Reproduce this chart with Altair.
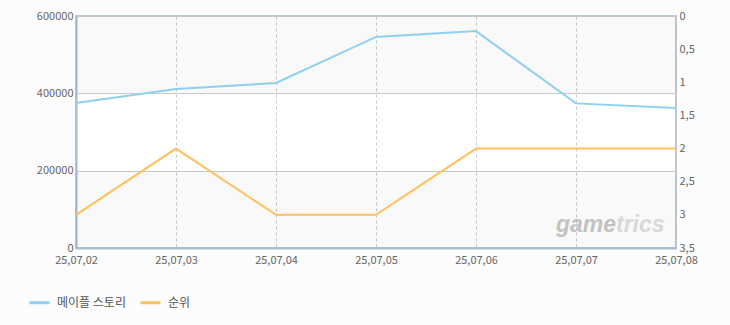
import altair as alt
import pandas as pd

dates = ["25,07,02", "25,07,03", "25,07,04", "25,07,05", "25,07,06", "25,07,07", "25,07,08"]
users = [375000, 411000, 427000, 546000, 561000, 374000, 362000]
ranks = [3, 2, 3, 3, 2, 2, 2]
series_names = ["메이플 스토리", "순위"]
series_colors = ["#8ed0f2", "#ffc05e"]
left_ticks = [0, 200000, 400000, 600000]
right_ticks = [0, 0.5, 1, 1.5, 2, 2.5, 3, 3.5]
band_lo = [0, 400000]
band_hi = [200000, 600000]

df = pd.DataFrame({"date": dates, "users": users, "rank": ranks,
                   "s1": series_names[0], "s2": series_names[1]})
bands = pd.DataFrame({"lo": band_lo, "hi": band_hi})

FONT = "Noto Sans CJK KR"
LBL = "#666666"

xenc = alt.X("date:N", sort=dates, title=None,
             scale=alt.Scale(type="point", padding=0),
             axis=alt.Axis(labelAngle=0, labelFontSize=11, labelColor=LBL, labelFont=FONT,
                           ticks=False, labelPadding=6, grid=True, gridDash=[3, 3],
                           gridColor="#c8c8c8", domainColor="#a9bbce", domainWidth=2))

legend = alt.Legend(title=None, orient="none", direction="horizontal",
                    legendX=-48, legendY=275, symbolType="stroke",
                    symbolSize=400, symbolStrokeWidth=3,
                    labelFontSize=12, labelColor="#555555", labelFont=FONT,
                    columnPadding=8, labelOffset=6)
cscale = alt.Scale(domain=series_names, range=series_colors)

ysc_left = alt.Scale(domain=[0, 600000], nice=False)
left_axis = alt.Axis(values=left_ticks, format="d", labelFontSize=11, labelColor=LBL,
                     labelFont=FONT, ticks=False, labelPadding=3, grid=True,
                     gridColor="#cccccc", domainColor="#a9bbce", domainWidth=2,
                     title=None)

band_layer = alt.Chart(bands).mark_rect(color="#000000", opacity=0.022).encode(
    y=alt.Y("lo:Q", scale=ysc_left, axis=None),
    y2="hi:Q",
)

blue = alt.Chart(df).mark_line(strokeWidth=2).encode(
    x=xenc,
    y=alt.Y("users:Q", scale=ysc_left, axis=left_axis),
    color=alt.Color("s1:N", scale=cscale, legend=legend),
)

orange = alt.Chart(df).mark_line(strokeWidth=2).encode(
    x=xenc,
    y=alt.Y("rank:Q", scale=alt.Scale(domain=[0, 3.5], reverse=True, nice=False),
            axis=alt.Axis(orient="right", values=right_ticks,
                          labelExpr="replace(format(datum.value, ''), '.', ',')",
                          labelFontSize=11, labelColor=LBL, labelFont=FONT, ticks=False,
                          labelPadding=3, grid=False, domain=False, title=None)),
    color=alt.Color("s2:N", scale=cscale, legend=legend),
)

mark = alt.Chart(pd.DataFrame({"t": ["game"]})).mark_text(
    font="Liberation Sans", fontSize=23, fontStyle="italic", fontWeight="bold",
    align="right", baseline="alphabetic", color="#c2c2c2").encode(
    text="t:N", x=alt.value(540), y=alt.value(216))
mark2 = alt.Chart(pd.DataFrame({"u": ["trics"]})).mark_text(
    font="Liberation Sans", fontSize=23, fontStyle="italic", fontWeight="bold",
    align="left", baseline="alphabetic", color="#d8d8d8").encode(
    text="u:N", x=alt.value(540), y=alt.value(216))

chart = alt.layer(band_layer, blue, mark, mark2, orange).resolve_scale(
    y="independent").properties(
    width=600, height=232, background="#fcfcfc",
    autosize=alt.AutoSizeParams(type="none"),
    padding={"left": 76, "top": 16, "right": 54, "bottom": 77},
).configure_view(stroke="#b5c7da", strokeWidth=2, fill="#ffffff")

chart.save("out.html", embed_options={"renderer": "svg", "actions": False})
